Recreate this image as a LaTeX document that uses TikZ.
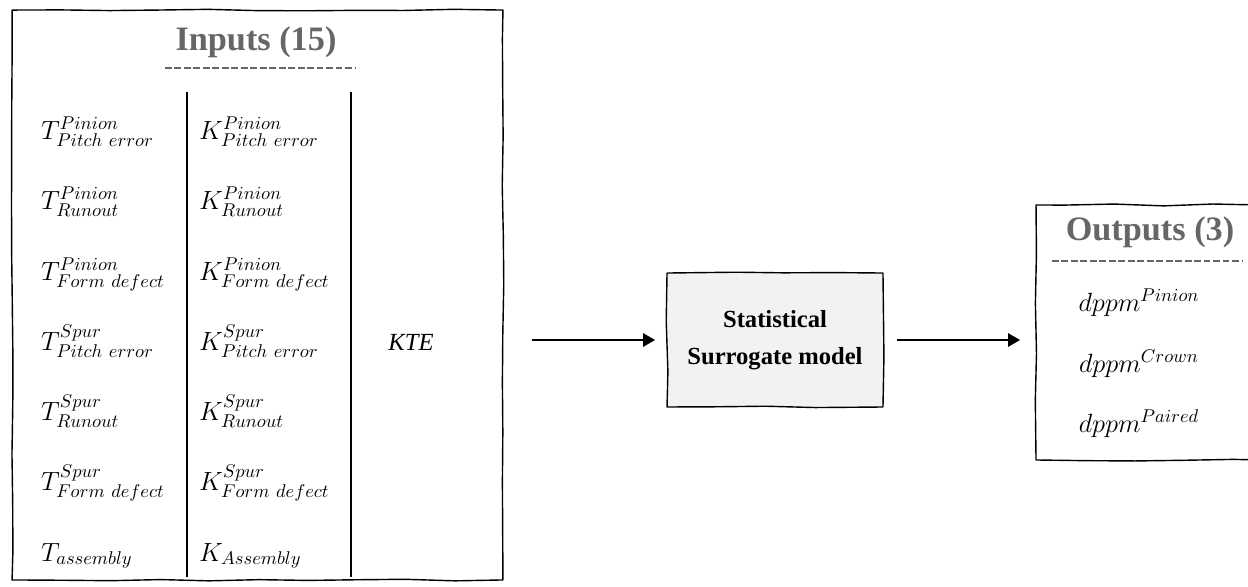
\RequirePackage{fix-cm}
\documentclass[tikz,border=0pt]{standalone}
\usepackage{fontspec}
\setmainfont{Liberation Serif}
\usepackage{amsmath}
\usetikzlibrary{arrows, calc, decorations.pathmorphing}

\begin{document}
\pgfmathsetseed{11}
\begin{tikzpicture}[x=0.02cm, y=-0.02cm,
	box/.style={inner sep=0pt, outer sep=0pt},
	sketch/.style={line width=0.8pt, line join=round,
		decorate, decoration={random steps, segment length=28pt, amplitude=0.6pt}},
	title/.style={anchor=base, text=black!60, font=\fontsize{19.5}{23}\selectfont\bfseries},
	rule/.style={draw=black!60, line width=1.6pt, dash pattern=on 3.8pt off 1.6pt},
	var/.style={anchor=base west, font=\fontsize{15}{18}\selectfont},
	outvar/.style={anchor=base, font=\fontsize{15}{18}\selectfont},
	flow/.style={-triangle 60, line width=0.85pt}]
	\useasboundingbox (0,0) rectangle (1248,586);
	\clip (0,0) rectangle (1248,586);
	% boxes
	\node (inputs) [box, minimum width=9.82cm, minimum height=11.4cm] at (257.5,295) {};
	\node (model) [box, minimum width=4.32cm, minimum height=2.68cm] at (775,340) {};
	\node (outputs) [box, minimum width=4.52cm, minimum height=5.1cm] at (1149,332.5) {};
	\draw [sketch] (inputs.north west) rectangle (inputs.south east);
	\draw [sketch, fill=black!5] (model.north west) rectangle (model.south east);
	\draw [sketch] (outputs.north west) rectangle (outputs.south east);
	\path (model) node [align=center, font=\fontsize{14}{21}\selectfont\bfseries] {Statistical\\Surrogate model};
	% inputs
	\path (256,50) node (intitle) [title] {Inputs (15)};
	\draw [rule] (165,68) -- (355,68);
	\draw [line width=1.1pt] (187,92) -- (187,577);
	\draw [line width=1.1pt] (351,92) -- (351,577);
	\path (35,139) node (tpp) [var] {$T^{Pinion}_{Pitch\ error}$};
	\path (35,209) node (tpr) [var] {$T^{Pinion}_{Runout}$};
	\path (35,280) node (tpf) [var] {$T^{Pinion}_{Form\ defect}$};
	\path (35,350) node (tsp) [var] {$T^{Spur}_{Pitch\ error}$};
	\path (35,420) node (tsr) [var] {$T^{Spur}_{Runout}$};
	\path (35,490) node (tsf) [var] {$T^{Spur}_{Form\ defect}$};
	\path (35,561) node (ta) [var] {$T_{assembly}$};
	\path (193,139) node (kpp) [var] {$K^{Pinion}_{Pitch\ error}$};
	\path (193,209) node (kpr) [var] {$K^{Pinion}_{Runout}$};
	\path (193,280) node (kpf) [var] {$K^{Pinion}_{Form\ defect}$};
	\path (193,350) node (ksp) [var] {$K^{Spur}_{Pitch\ error}$};
	\path (193,420) node (ksr) [var] {$K^{Spur}_{Runout}$};
	\path (193,490) node (ksf) [var] {$K^{Spur}_{Form\ defect}$};
	\path (193,561) node (ka) [var] {$K_{Assembly}$};
	\path (411,342) node (kte) [font=\fontsize{14}{17}\selectfont\itshape] {KTE};
	% outputs
	\path (1150,240) node (outtitle) [title] {Outputs (3)};
	\draw [rule] (1052,261) -- (1242,261);
	\path (1139,311) node (dpin) [outvar] {$dppm^{Pinion}$};
	\path (1139,372) node (dcro) [outvar] {$dppm^{Crown}$};
	\path (1139,432) node (dpai) [outvar] {$dppm^{Paired}$};
	% flow
	\draw [flow] ($(inputs.east |- model.west)+(29,0)$) -- ($(model.west)+(-12,0)$);
	\draw [flow] ($(model.east)+(14,0)$) -- ($(outputs.west |- model.east)+(-16,0)$);
\end{tikzpicture}
\end{document}
